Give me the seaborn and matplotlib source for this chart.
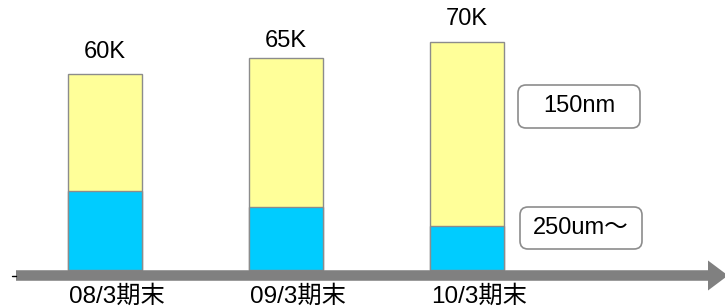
import matplotlib
matplotlib.use("Agg")
import matplotlib.pyplot as plt
from matplotlib.patches import FancyArrowPatch, FancyBboxPatch
from matplotlib.lines import Line2D
import seaborn as sns
import pandas as pd

# ---- data ----
categories = ["08/3期末", "09/3期末", "10/3期末"]
total_values = [60, 65, 70]          # K units (150nm + 250um〜)
lower_values = [24.2, 19.2, 13.6]    # 250um〜 portion
value_labels = ["60K", "65K", "70K"]
legend_labels = ["150nm", "250um〜"]

YELLOW = "#FFFF99"
BLUE = "#00CCFF"
EDGE = "#8C8C8C"
FONT = ["Liberation Sans", "Noto Sans CJK JP", "DejaVu Sans"]

sns.set_theme(style="white")
plt.rcParams["font.family"] = FONT

W, H, DPI = 725, 308, 100
fig = plt.figure(figsize=(W / DPI, H / DPI), dpi=DPI)
ax = fig.add_axes([0, 0, 1, 1])

df = pd.DataFrame({"cat": categories, "total": total_values, "lower": lower_values})

bar_w = 0.407
sns.barplot(data=df, x="cat", y="total", color=YELLOW, width=bar_w,
            edgecolor=EDGE, linewidth=1.0, saturation=1, ax=ax)
sns.barplot(data=df, x="cat", y="lower", color=BLUE, width=bar_w,
            edgecolor=EDGE, linewidth=1.0, saturation=1, ax=ax)

# pixel-to-data mapping for layout
x0_px, unit_px = 105.2, 181.0
y0_px, k_px = 270.0, 3.262
ax.set_xlim(-x0_px / unit_px, (W - x0_px) / unit_px)
ax.set_ylim(-(H - y0_px) / k_px, y0_px / k_px)
ax.axis("off")

# value labels above bars
label_gap_px = [11, 6, 12]
for i, (v, lab) in enumerate(zip(total_values, value_labels)):
    ax.annotate(lab, xy=(i, v), xytext=(0, label_gap_px[i] * 72 / DPI),
                textcoords="offset points", ha="center", va="bottom",
                fontsize=17, color="black")

# category labels below the arrow
for i, c in enumerate(categories):
    ax.text(i + 0.065, -(297 - y0_px) / k_px, c, ha="center", va="center",
            fontsize=17.5, color="black")

# gray timeline arrow
def px_x(p):
    return (p - x0_px) / unit_px

arrow_y = -(275.5 - y0_px) / k_px
arrow = FancyArrowPatch((px_x(16), arrow_y), (px_x(728), arrow_y),
                        arrowstyle="simple,head_length=14.4,head_width=21.6,tail_width=7.6",
                        mutation_scale=1, color="#808080", shrinkA=0, shrinkB=0,
                        lw=0, zorder=1)
ax.add_patch(arrow)
ax.add_line(Line2D([0.12, 0.155], [(H - 275.5) / DPI] * 2, color="black", lw=1,
                   transform=fig.dpi_scale_trans))

# rounded label boxes
boxes = [(518, 85, 640, 128), (520, 207, 642, 249)]
for (l, t, r, b), txt in zip(boxes, legend_labels):
    patch = FancyBboxPatch((l / DPI, (H - b) / DPI), (r - l) / DPI, (b - t) / DPI,
                           boxstyle="round,pad=0,rounding_size=0.08",
                           fc="white", ec=EDGE, lw=1.2,
                           transform=fig.dpi_scale_trans)
    ax.add_patch(patch)
    ax.text((l + r) / 2 / DPI, (H - (t + b) / 2) / DPI, txt,
            transform=fig.dpi_scale_trans, ha="center", va="center",
            fontsize=17, color="black")

fig.savefig("out.png", dpi=DPI)
